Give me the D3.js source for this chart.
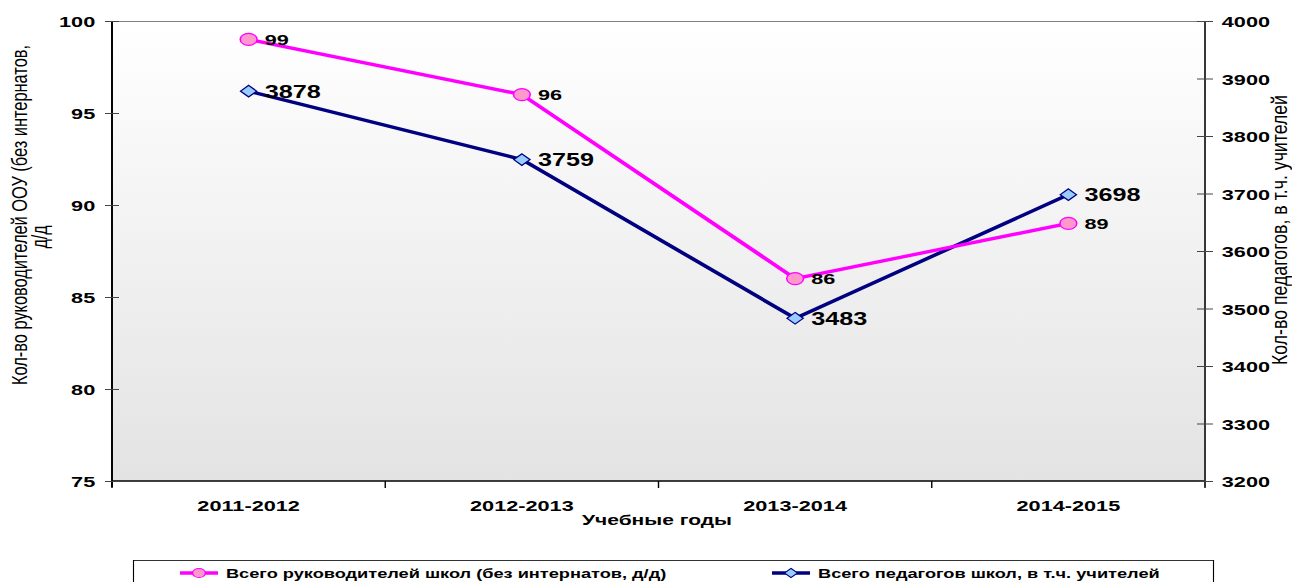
<!DOCTYPE html>
<html>
<head>
<meta charset="utf-8">
<script src="https://cdn.jsdelivr.net/npm/d3@7"></script>
<style>
  html, body { margin: 0; padding: 0; background: #fff; }
  svg { display: block; }
</style>
</head>
<body>
<svg id="chart" width="1292" height="582"></svg>
<script>
// School staff by academic year
const categories = ["2011-2012", "2012-2013", "2013-2014", "2014-2015"];
const headsValues = [99, 96, 86, 89];
const teachersValues = [3878, 3759, 3483, 3698];
const leftTicks = [75, 80, 85, 90, 95, 100];
const rightTicks = [3200, 3300, 3400, 3500, 3600, 3700, 3800, 3900, 4000];
const headsName = "Всего руководителей школ (без интернатов, д/д)";
const teachersName = "Всего педагогов школ, в т.ч. учителей";
const leftTitle = ["Кол-во руководителей ООУ (без интернатов,", "д/д"];
const rightTitle = "Кол-во педагогов, в т.ч. учителей";
const xTitle = "Учебные годы";

// The chart is laid out in a narrower frame and widened horizontally,
// giving the broad, stretched lettering of the original slide.
const SX = 1.4;
const FONT = "Arial, 'Liberation Sans', sans-serif";

const svg = d3.select("#chart");
const root = svg.append("g").attr("transform", `scale(${SX},1)`);
const plot = { left: 112 / SX, right: 1205 / SX, top: 21, bottom: 481 };

const x = d3.scaleBand().domain(categories).range([plot.left, plot.right]).padding(0);
const yL = d3.scaleLinear().domain([75, 100]).range([plot.bottom, plot.top]);
const yR = d3.scaleLinear().domain([3200, 4000]).range([plot.bottom, plot.top]);

// plot background gradient
const defs = svg.append("defs");
const grad = defs.append("linearGradient").attr("id", "bg").attr("x1", 0).attr("y1", 0).attr("x2", 0).attr("y2", 1);
grad.append("stop").attr("offset", "0%").attr("stop-color", "#ffffff");
grad.append("stop").attr("offset", "100%").attr("stop-color", "#e3e3e3");

root.append("rect")
  .attr("x", plot.left).attr("y", plot.top)
  .attr("width", plot.right - plot.left).attr("height", plot.bottom - plot.top)
  .attr("fill", "url(#bg)");
root.append("line")
  .attr("x1", plot.left).attr("x2", plot.right)
  .attr("y1", plot.top + 0.5).attr("y2", plot.top + 0.5)
  .attr("stroke", "#808080").attr("stroke-width", 1);

// bottom axis with ticks at category boundaries
const bottom = root.append("g").attr("transform", `translate(0,${plot.bottom})`);
bottom.append("line").attr("x1", plot.left).attr("x2", plot.right)
  .attr("stroke", "#000").attr("stroke-width", 1.5);
const bounds = categories.map(c => x(c)).concat([plot.right]);
bottom.selectAll("line.tk").data(bounds).join("line").attr("class", "tk")
  .attr("x1", d => d).attr("x2", d => d).attr("y1", 0).attr("y2", 7)
  .attr("stroke", "#000").attr("stroke-width", 1);
bottom.selectAll("text.cat").data(categories).join("text").attr("class", "cat")
  .attr("x", d => x(d) + x.bandwidth() / 2).attr("y", 30)
  .attr("text-anchor", "middle").attr("font-family", FONT)
  .attr("font-size", 15.5).attr("font-weight", "bold").text(d => d);

root.append("text").attr("x", 657 / SX).attr("y", 525).attr("text-anchor", "middle")
  .attr("font-family", FONT).attr("font-size", 15).attr("font-weight", "bold").text(xTitle);

// left axis
const leftAxis = root.append("g").attr("transform", `translate(${plot.left},0)`)
  .call(d3.axisLeft(yL).tickValues(leftTicks).tickSize(5).tickPadding(7));
leftAxis.select(".domain").attr("stroke", "#000").attr("stroke-width", 1.4)
  .attr("d", `M0,${plot.top}V${plot.bottom + 6}`);
leftAxis.selectAll(".tick line").attr("x1", 5).attr("x2", -5).attr("stroke", "#444");
leftAxis.selectAll(".tick text").attr("font-size", 15.5).attr("font-weight", "bold").attr("fill", "#000")
  .attr("font-family", FONT).attr("dy", "0.36em");

// right axis
const rightAxis = root.append("g").attr("transform", `translate(${plot.right},0)`)
  .call(d3.axisRight(yR).tickValues(rightTicks).tickFormat(d3.format("d")).tickSize(5.7).tickPadding(6.3));
rightAxis.select(".domain").attr("stroke", "#333").attr("stroke-width", 1.4)
  .attr("d", `M0,${plot.top}V${plot.bottom + 6}`);
rightAxis.selectAll(".tick line").attr("x1", -5.7).attr("x2", 5.7).attr("stroke", "#444");
rightAxis.selectAll(".tick text").attr("font-size", 15.5).attr("font-weight", "bold").attr("fill", "#000")
  .attr("font-family", FONT).attr("dy", "0.36em");

// axis titles
root.append("text").attr("transform", `translate(${27 / SX},215) rotate(-90)`)
  .attr("text-anchor", "middle").attr("font-size", 16).attr("font-family", FONT)
  .attr("textLength", 340).attr("lengthAdjust", "spacingAndGlyphs").text(leftTitle[0]);
root.append("text").attr("transform", `translate(${47 / SX},237) rotate(-90)`)
  .attr("text-anchor", "middle").attr("font-size", 16).attr("font-family", FONT).text(leftTitle[1]);

root.append("text").attr("transform", `translate(${1287 / SX},230) rotate(-90)`)
  .attr("text-anchor", "middle").attr("font-size", 16).attr("font-family", FONT)
  .attr("textLength", 270).attr("lengthAdjust", "spacingAndGlyphs").text(rightTitle);

// series
const cx = d => x(d) + x.bandwidth() / 2;
const headsPts = categories.map((c, i) => [cx(c), yL(headsValues[i]), headsValues[i]]);
const teachPts = categories.map((c, i) => [cx(c), yR(teachersValues[i]), teachersValues[i]]);
const line = d3.line().x(d => d[0]).y(d => d[1]);

root.append("path").attr("d", line(teachPts)).attr("fill", "none")
  .attr("stroke", "#000080").attr("stroke-width", 3.3).attr("stroke-linejoin", "round");
root.append("path").attr("d", line(headsPts)).attr("fill", "none")
  .attr("stroke", "#ff00ff").attr("stroke-width", 3.3).attr("stroke-linejoin", "round");

const diamond = (px, py, s) => `M${px},${py - s}L${px + s},${py}L${px},${py + s}L${px - s},${py}Z`;
root.selectAll("path.dm").data(teachPts).join("path").attr("class", "dm")
  .attr("d", d => diamond(d[0], d[1], 5.8))
  .attr("fill", "#99ccff").attr("stroke", "#000080").attr("stroke-width", 1.1);
root.selectAll("circle.cr").data(headsPts).join("circle").attr("class", "cr")
  .attr("cx", d => d[0]).attr("cy", d => d[1]).attr("r", 6)
  .attr("fill", "#ff99cc").attr("stroke", "#ff00ff").attr("stroke-width", 1.1);

// value labels
root.selectAll("text.hl").data(headsPts).join("text").attr("class", "hl")
  .attr("x", d => d[0] + 11.5).attr("y", d => d[1] + 5.5)
  .attr("font-family", FONT).attr("font-size", 15.5).attr("font-weight", "bold").text(d => d[2]);
root.selectAll("text.tl").data(teachPts).join("text").attr("class", "tl")
  .attr("x", d => d[0] + 11.5).attr("y", d => d[1] + 6.5)
  .attr("font-family", FONT).attr("font-size", 18).attr("font-weight", "bold").text(d => d[2]);

// legend
const lg = root.append("g");
lg.append("rect").attr("x", 133.5 / SX).attr("y", 560.5).attr("width", 1080 / SX).attr("height", 40)
  .attr("fill", "#fff").attr("stroke", "#000").attr("stroke-width", 0.8);
const legendItems = [
  { x: 180 / SX, name: headsName, color: "#ff00ff", fill: "#ff99cc", shape: "circle" },
  { x: 772 / SX, name: teachersName, color: "#000080", fill: "#99ccff", shape: "diamond" }
];
legendItems.forEach(it => {
  const y = 573;
  lg.append("line").attr("x1", it.x).attr("x2", it.x + 38 / SX).attr("y1", y).attr("y2", y)
    .attr("stroke", it.color).attr("stroke-width", 3.5);
  if (it.shape === "circle") {
    lg.append("circle").attr("cx", it.x + 19 / SX).attr("cy", y).attr("r", 4.6)
      .attr("fill", it.fill).attr("stroke", it.color).attr("stroke-width", 1);
  } else {
    lg.append("path").attr("d", diamond(it.x + 19 / SX, y, 4.6))
      .attr("fill", it.fill).attr("stroke", it.color).attr("stroke-width", 1);
  }
  lg.append("text").attr("x", it.x + 46 / SX).attr("y", y + 5)
    .attr("font-family", FONT).attr("font-size", 13).attr("font-weight", "bold").text(it.name);
});
</script>
</body>
</html>
